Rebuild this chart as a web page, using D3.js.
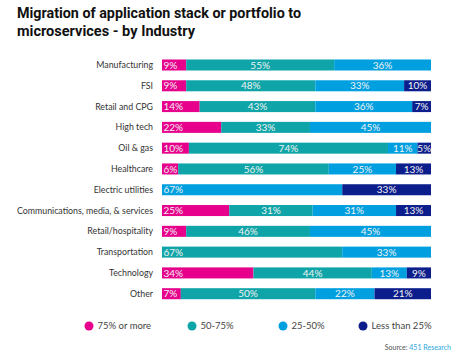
<!DOCTYPE html>
<html>
<head>
<meta charset="utf-8">
<script src="https://cdn.jsdelivr.net/npm/d3@7"></script>
<style>
  body { margin: 0; background: #fff; }
  svg { display: block; }
</style>
</head>
<body>
<div id="chart"></div>
<script>
// Industries, top to bottom
const industries = ["Manufacturing", "FSI", "Retail and CPG", "High tech", "Oil & gas", "Healthcare",
    "Electric utilities", "Communications, media, & services", "Retail/hospitality", "Transportation",
    "Technology", "Other"];

// Share of respondents per migration level (%)
const seriesKeys = ["75% or more", "50-75%", "25-50%", "Less than 25%"];
const more75 = [9, 9, 14, 22, 10, 6, 0, 25, 9, 0, 34, 7];
const from50to75 = [55, 48, 43, 33, 74, 56, 0, 31, 46, 67, 44, 50];
const from25to50 = [36, 33, 36, 45, 11, 25, 67, 31, 45, 33, 13, 22];
const less25 = [0, 10, 7, 0, 5, 13, 33, 13, 0, 0, 9, 21];

const colours = ["#e6008c", "#0fa5a8", "#00a0e0", "#0c1e8c"];

var width = 470, height = 363;

let svg = d3.select("#chart")
    .append("svg")
    .attr("width", width)
    .attr("height", height);

// Title
svg.append("text")
    .attr("x", 17).attr("y", 18)
    .attr("textLength", 284).attr("lengthAdjust", "spacingAndGlyphs")
    .style("font-family", "Roboto, sans-serif").style("font-weight", "bold")
    .style("font-size", "14.5px").style("fill", "#111")
    .text("Migration of application stack or portfolio to");
svg.append("text")
    .attr("x", 17).attr("y", 36)
    .attr("textLength", 178).attr("lengthAdjust", "spacingAndGlyphs")
    .style("font-family", "Roboto, sans-serif").style("font-weight", "bold")
    .style("font-size", "14.5px").style("fill", "#111")
    .text("microservices - by Industry");

// build stacked rows
let rows = industries.map((name, i) => ({
    name: name,
    values: [more75[i], from50to75[i], from25to50[i], less25[i]]
}));
let stack = d3.stack()
    .keys([0, 1, 2, 3])
    .value((d, k) => d.values[k])(rows);

var x = d3.scaleLinear()
    .domain([0, 100])
    .range([162, 431]);

var y = d3.scaleBand()
    .domain(industries)
    .range([54.6, 304.1])
    .paddingInner(0.47)
    .paddingOuter(0.235);

// Category labels
svg.append("g")
    .selectAll("text")
    .data(industries)
    .enter()
    .append("text")
    .attr("x", 153)
    .attr("y", (d) => y(d) + y.bandwidth() / 2)
    .attr("dy", "0.35em")
    .attr("text-anchor", "end")
    .style("font-family", "Lato, sans-serif")
    .style("font-size", "8.8px")
    .style("fill", "#333")
    .text((d) => d);

// Segments
let segs = [];
stack.forEach((layer, k) => {
    layer.forEach((s) => {
        if (s[1] - s[0] > 0) segs.push({k: k, x0: s[0], x1: s[1], name: s.data.name});
    });
});
segs.forEach((s) => {
    s.first = !segs.some((o) => o.name == s.name && o.x0 < s.x0);
});

svg.append("g")
    .selectAll("rect")
    .data(segs)
    .enter()
    .append("rect")
    .attr("x", (d) => x(d.x0))
    .attr("y", (d) => y(d.name))
    .attr("width", (d) => x(d.x1) - x(d.x0))
    .attr("height", y.bandwidth())
    .style("fill", (d) => colours[d.k]);

// Segment labels: first one left aligned, others centered
svg.append("g")
    .selectAll("text")
    .data(segs)
    .enter()
    .append("text")
    .attr("x", (d) => d.first ? x(d.x0) + 1.5 : (x(d.x0) + x(d.x1)) / 2)
    .attr("y", (d) => y(d.name) + y.bandwidth() / 2)
    .attr("dy", "0.36em")
    .attr("text-anchor", (d) => d.first ? "start" : "middle")
    .style("font-family", "Lato, sans-serif")
    .style("font-size", "10px")
    .style("fill", "#f2f2f2")
    .text((d) => (d.x1 - d.x0) + "%");

// Legend
const legendX = [89, 192, 283, 363];
let legend = svg.append("g")
    .selectAll("g")
    .data(seriesKeys)
    .enter()
    .append("g")
    .attr("transform", (d, i) => "translate(" + legendX[i] + ",326)");
legend.append("circle")
    .attr("r", 4.5)
    .style("fill", (d, i) => colours[i]);
legend.append("text")
    .attr("x", 8.5)
    .attr("dy", "0.35em")
    .style("font-family", "Lato, sans-serif")
    .style("font-size", "9.5px")
    .style("fill", "#444")
    .text((d) => d);

// Source
let src = svg.append("text")
    .attr("x", 451).attr("y", 350)
    .attr("text-anchor", "end")
    .style("font-family", "Lato, sans-serif")
    .style("font-size", "7px")
    .style("fill", "#555");
src.append("tspan").text("Source: ");
src.append("tspan").style("fill", "#29a8e0").text("451 Research");
</script>
</body>
</html>
